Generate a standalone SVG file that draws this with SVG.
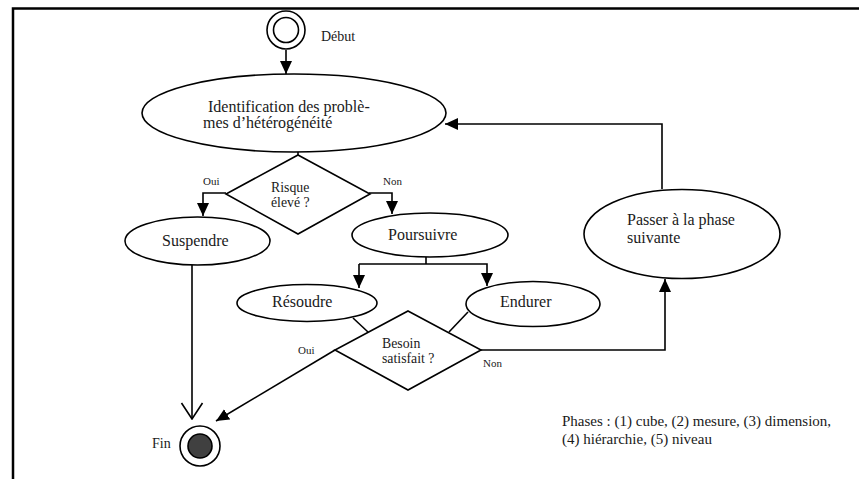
<svg xmlns="http://www.w3.org/2000/svg" width="859" height="479" viewBox="0 0 859 479">
<style>
.shape{fill:#fff;stroke:#000;stroke-width:1.6}
.conn{fill:none;stroke:#000;stroke-width:1.6}
.t{font-family:"Liberation Serif","Times New Roman",serif;fill:#1a1a1a}
.big{font-size:16px}
.mid{font-size:13.8px}
.small{font-size:11px}
</style>
<defs>
<marker id="arr" markerUnits="userSpaceOnUse" markerWidth="14" markerHeight="14" viewBox="0 0 14 14" refX="13" refY="7" orient="auto">
<path d="M0,1 L13,7 L0,13 Z" fill="#000"/>
</marker>
<marker id="open" markerUnits="userSpaceOnUse" markerWidth="18" markerHeight="24" viewBox="0 0 18 24" refX="17" refY="12" orient="auto">
<path d="M1,1.5 L17,12 L1,22.5" fill="none" stroke="#000" stroke-width="1.6"/>
</marker>
</defs>
<rect width="859" height="479" fill="#fff"/>
<path d="M13,479 L13,8.5 L859,8.5" fill="none" stroke="#000" stroke-width="2.5"/>

<g id="connectors">
<line class="conn" x1="286" y1="50" x2="286" y2="74" marker-end="url(#arr)"/>
<line class="conn" x1="298" y1="151" x2="298" y2="155"/>
<polyline class="conn" points="226,193 203,193 203,216" marker-end="url(#arr)"/>
<polyline class="conn" points="369,193 392,193 392,214" marker-end="url(#arr)"/>
<polyline class="conn" points="426,257 426,264"/>
<polyline class="conn" points="359,264 487,264 487,286" marker-end="url(#arr)"/>
<line class="conn" x1="359" y1="264" x2="359" y2="288" marker-end="url(#arr)"/>
<line class="conn" x1="353" y1="318" x2="368" y2="332"/>
<line class="conn" x1="468" y1="312" x2="449" y2="332"/>
<line class="conn" x1="335" y1="350" x2="216" y2="421" marker-end="url(#arr)"/>
<polyline class="conn" points="481,350 665,350 665,279" marker-end="url(#arr)"/>
<polyline class="conn" points="662,189 662,124 445,124" marker-end="url(#arr)"/>
<line class="conn" x1="192" y1="265" x2="192" y2="419" marker-end="url(#open)"/>
</g>

<g id="start">
<circle class="shape" cx="286" cy="30" r="19"/>
<circle class="shape" cx="286" cy="30" r="12.5"/>
<text class="t" x="321" y="41" font-size="14">Début</text>
</g>

<g id="identification">
<ellipse class="shape" cx="294" cy="113" rx="152" ry="39"/>
<text class="t big" x="208" y="112">Identification des problè-</text>
<text class="t big" x="203" y="128">mes d’hétérogénéité</text>
</g>

<g id="risque">
<polygon class="shape" points="298,155 370,194 298,234 226,194"/>
<text class="t mid" x="271" y="192">Risque</text>
<text class="t mid" x="271" y="207">élevé ?</text>
<text class="t small" x="203" y="185">Oui</text>
<text class="t small" x="383" y="185">Non</text>
</g>

<g id="suspendre">
<ellipse class="shape" cx="197.5" cy="241" rx="72.5" ry="24"/>
<text class="t big" x="162" y="246">Suspendre</text>
</g>

<g id="poursuivre">
<ellipse class="shape" cx="430" cy="235" rx="78" ry="22"/>
<text class="t big" x="388" y="240">Poursuivre</text>
</g>

<g id="resoudre">
<ellipse class="shape" cx="307" cy="303" rx="70" ry="18.5"/>
<text class="t big" x="272" y="307">Résoudre</text>
</g>

<g id="endurer">
<ellipse class="shape" cx="533" cy="304" rx="67" ry="22.5"/>
<text class="t big" x="500" y="307">Endurer</text>
</g>

<g id="besoin">
<polygon class="shape" points="408,311 481,350 408,390 335,350"/>
<text class="t mid" x="382" y="348">Besoin</text>
<text class="t mid" x="382" y="363">satisfait ?</text>
<text class="t small" x="298" y="354">Oui</text>
<text class="t small" x="483" y="367">Non</text>
</g>

<g id="passer">
<ellipse class="shape" cx="682" cy="234" rx="98" ry="44.5"/>
<text class="t big" x="627" y="225">Passer à la phase</text>
<text class="t big" x="627" y="243">suivante</text>
</g>

<g id="fin">
<circle class="shape" cx="200" cy="446" r="20"/>
<circle cx="200" cy="446" r="12" fill="#404040" stroke="#000" stroke-width="1.6"/>
<text class="t" x="152" y="448" font-size="14">Fin</text>
</g>

<g id="legend">
<text class="t" x="562" y="426" font-size="15">Phases : (1) cube, (2) mesure, (3) dimension,</text>
<text class="t" x="562" y="444" font-size="15">(4) hiérarchie, (5) niveau</text>
</g>
</svg>
